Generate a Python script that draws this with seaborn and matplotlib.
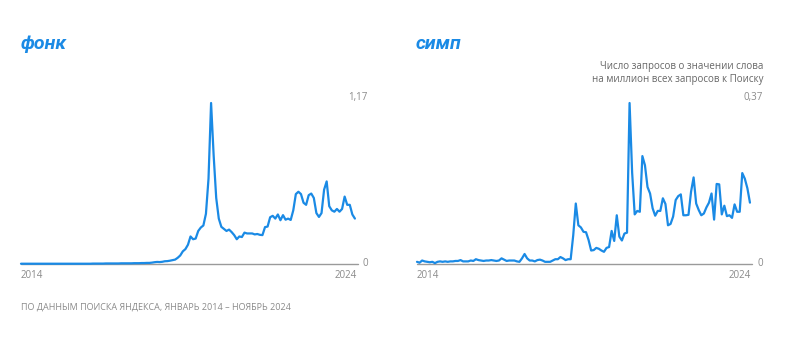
import matplotlib
matplotlib.use("Agg")
import matplotlib.pyplot as plt
import seaborn as sns
import pandas as pd
import numpy as np

# Monthly data, Jan 2014 - Nov 2024 (131 points)
fonk = [
    0.002, 0.002, 0.002, 0.002, 0.002, 0.002, 0.002, 0.002, 0.002, 0.002,
    0.002, 0.002, 0.002, 0.002, 0.002, 0.002, 0.002, 0.002, 0.002, 0.002,
    0.002, 0.002, 0.002, 0.002, 0.002, 0.002, 0.002, 0.002, 0.003, 0.003,
    0.003, 0.003, 0.003, 0.004, 0.004, 0.004, 0.004, 0.004, 0.004, 0.005,
    0.005, 0.005, 0.005, 0.005, 0.006, 0.006, 0.006, 0.007, 0.007, 0.008,
    0.008, 0.010, 0.013, 0.015, 0.014, 0.016, 0.020, 0.021, 0.024, 0.028,
    0.032, 0.045, 0.062, 0.092, 0.108, 0.140, 0.200, 0.180, 0.185, 0.240,
    0.265, 0.280, 0.365, 0.620, 1.170, 0.790, 0.480, 0.330, 0.270, 0.255,
    0.240, 0.250, 0.232, 0.210, 0.180, 0.200, 0.196, 0.228, 0.222, 0.222,
    0.222, 0.215, 0.218, 0.212, 0.210, 0.268, 0.272, 0.340, 0.350, 0.330,
    0.360, 0.318, 0.355, 0.322, 0.330, 0.320, 0.390, 0.508, 0.525, 0.508,
    0.445, 0.430, 0.500, 0.512, 0.480, 0.370, 0.342, 0.370, 0.540, 0.600,
    0.420, 0.390, 0.380, 0.400, 0.380, 0.400, 0.490, 0.430, 0.430, 0.360,
    0.330,
]

simp = [
    0.005, 0.003, 0.008, 0.006, 0.005, 0.004, 0.005, 0.002, 0.005, 0.006,
    0.005, 0.006, 0.005, 0.006, 0.006, 0.007, 0.007, 0.009, 0.006, 0.006,
    0.006, 0.008, 0.007, 0.011, 0.009, 0.008, 0.007, 0.008, 0.008, 0.009,
    0.008, 0.007, 0.008, 0.013, 0.010, 0.007, 0.008, 0.008, 0.008, 0.006,
    0.005, 0.013, 0.023, 0.013, 0.008, 0.008, 0.006, 0.009, 0.010, 0.008,
    0.005, 0.005, 0.005, 0.008, 0.011, 0.011, 0.016, 0.013, 0.009, 0.011,
    0.011, 0.066, 0.139, 0.089, 0.084, 0.074, 0.073, 0.055, 0.031, 0.032,
    0.037, 0.035, 0.031, 0.028, 0.037, 0.039, 0.076, 0.053, 0.112, 0.063,
    0.054, 0.070, 0.072, 0.370, 0.210, 0.114, 0.122, 0.120, 0.248, 0.227,
    0.177, 0.162, 0.128, 0.111, 0.122, 0.122, 0.151, 0.138, 0.089, 0.092,
    0.109, 0.147, 0.156, 0.160, 0.112, 0.112, 0.113, 0.166, 0.199, 0.139,
    0.124, 0.112, 0.116, 0.130, 0.141, 0.162, 0.102, 0.184, 0.183, 0.114,
    0.134, 0.110, 0.112, 0.106, 0.137, 0.120, 0.120, 0.209, 0.196, 0.174,
    0.141,
]

n = min(len(fonk), len(simp))
month_idx = list(range(n))
df_fonk = pd.DataFrame({"m": month_idx, "v": fonk[:n]})
df_simp = pd.DataFrame({"m": month_idx, "v": simp[:n]})

titles = ["фонк", "симп"]
top_labels = ["1,17", "0,37"]
tops = [1.17, 0.37]
x_labels = ["2014", "2024"]
note = "Число запросов о значении слова\nна миллион всех запросов к Поиску"
footer = "ПО ДАННЫМ ПОИСКА ЯНДЕКСА, ЯНВАРЬ 2014 – НОЯБРЬ 2024"

sns.set_theme(style="white")
plt.rcParams["font.family"] = ["Open Sans", "DejaVu Sans"]

W, H = 800, 338
fig = plt.figure(figsize=(8, 3.38), dpi=100)
fig.patch.set_facecolor("white")

blue = "#1a8ae5"
gray = "#8a8a8a"

panels = [
    dict(df=df_fonk, left=21, right=358, xmax=131.2, title_x=21),
    dict(df=df_simp, left=417, right=752, xmax=130.8, title_x=416),
]
base_y = 264
top_y = 103

for k, p in enumerate(panels):
    ax = fig.add_axes([p["left"] / W, (H - base_y) / H,
                       (p["right"] - p["left"]) / W, (base_y - top_y) / H])
    sns.lineplot(data=p["df"], x="m", y="v", ax=ax, color=blue, linewidth=1.6,
                 zorder=3)
    for l in ax.lines:
        l.set_clip_on(False)
        l.set_solid_joinstyle("round")
    ax.set_xlim(0, p["xmax"])
    ax.set_ylim(0, tops[k])
    base = ax.axhline(0, color="#9a9a9a", linewidth=1.0, zorder=1)
    base.set_clip_on(False)
    for s in ax.spines.values():
        s.set_visible(False)
    ax.set_xticks([])
    ax.set_yticks([])
    ax.set_xlabel("")
    ax.set_ylabel("")
    ax.patch.set_alpha(0)

    fig.text((p["left"]) / W, 1 - 276 / H, x_labels[0], ha="left", va="center",
             fontsize=7, color=gray)
    fig.text((p["right"] - 1) / W, 1 - 276 / H, x_labels[1], ha="right", va="center",
             fontsize=7, color=gray)
    rx = 368 if k == 0 else 763
    fig.text(rx / W, 1 - 264 / H, "0", ha="right", va="center", fontsize=7, color=gray)
    fig.text(rx / W, 1 - 98 / H, top_labels[k], ha="right", va="center",
             fontsize=7, color=gray)

    fig.text(p["title_x"] / W, 1 - 44 / H, titles[k], ha="left", va="center",
             fontsize=14, color=blue, fontweight="bold", fontstyle="italic",
             family=["Roboto", "DejaVu Sans"])

fig.text(763 / W, 1 - 73 / H, note, ha="right", va="center", fontsize=7.0,
         color="#666666", linespacing=1.3)
fig.text(21 / W, 1 - 307 / H, footer, ha="left", va="center", fontsize=6.5,
         color=gray)

fig.savefig("out.png", dpi=100, facecolor="white")
